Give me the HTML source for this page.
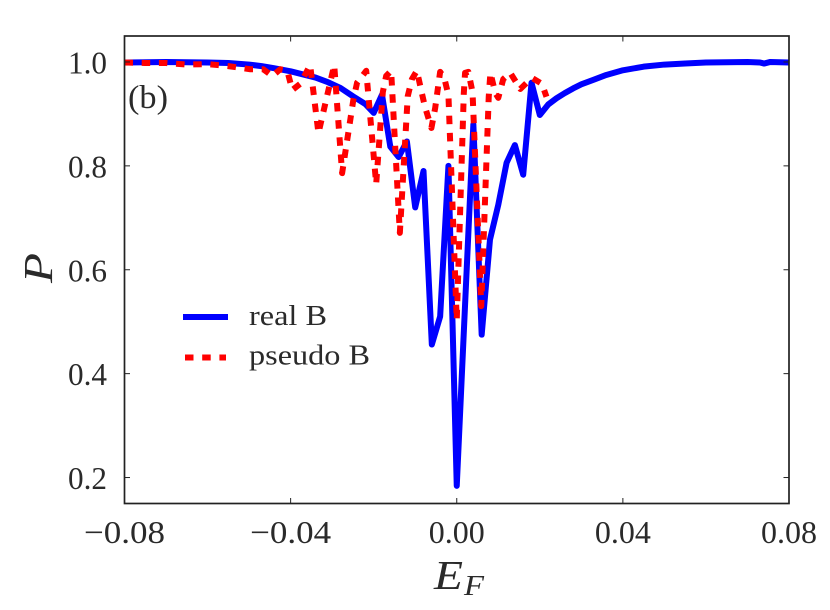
<!DOCTYPE html>
<html>
<head>
<meta charset="utf-8">
<title>P vs E_F</title>
<style>
html,body{margin:0;padding:0;background:#fff;width:830px;height:610px;overflow:hidden}
svg{display:block}
text{font-family:"Liberation Serif",serif;fill:#2a2a2a}
</style>
</head>
<body>
<svg id="chart" width="830" height="610" viewBox="0 0 830 610" xmlns="http://www.w3.org/2000/svg">
<defs><clipPath id="plot-clip"><rect x="124.5" y="36" width="664.5" height="467.5"/></clipPath></defs>
<rect x="124.5" y="36" width="664.5" height="467.5" fill="#fff"/>
<g id="series" clip-path="url(#plot-clip)"></g>
<g id="ticks"></g>
<rect x="124.5" y="36" width="664.5" height="467.5" fill="none" stroke="#222" stroke-width="1.7"/>
<text x="128" y="108" font-size="33" textLength="40" lengthAdjust="spacingAndGlyphs">(b)</text>
<text transform="translate(52,283) rotate(-90)" font-size="41" font-style="italic" textLength="30" lengthAdjust="spacingAndGlyphs">P</text>
<text x="434" y="589" font-size="41" font-style="italic" textLength="29" lengthAdjust="spacingAndGlyphs">E</text>
<text x="464" y="595" font-size="28" font-style="italic" textLength="20" lengthAdjust="spacingAndGlyphs">F</text>
<line x1="183" y1="317" x2="228" y2="317" stroke="#0000ff" stroke-width="6"/>
<line x1="185" y1="357.5" x2="226" y2="357.5" stroke="#ff0000" stroke-width="6" stroke-dasharray="8.5 8.7"/>
<text x="249" y="325" font-size="28" textLength="78" lengthAdjust="spacingAndGlyphs">real B</text>
<text x="249" y="364.5" font-size="28" textLength="121" lengthAdjust="spacingAndGlyphs">pseudo B</text>
</svg>
<script>
const xTicks = [-0.08, -0.04, 0, 0.04, 0.08];
const xTickLabels = ["\u22120.08", "\u22120.04", "0.00", "0.04", "0.08"];
const yTicks = [0.2, 0.4, 0.6, 0.8, 1.0];
const yTickLabels = ["0.2", "0.4", "0.6", "0.8", "1.0"];

const realE = [-0.08,-0.07,-0.06,-0.055,-0.05,-0.047,-0.044,-0.04,-0.037,-0.034,-0.031,-0.028,-0.025,-0.022,-0.02,-0.018,-0.016,-0.014,-0.012,-0.01,-0.008,-0.006,-0.004,-0.002,0,0.004,0.006,0.008,0.01,0.012,0.014,0.016,0.018,0.02,0.022,0.024,0.026,0.028,0.03,0.033,0.036,0.04,0.045,0.05,0.055,0.06,0.07,0.073,0.074,0.0755,0.08];
const realP = [0.999,1.0,0.999,0.998,0.995,0.992,0.988,0.982,0.976,0.97,0.961,0.95,0.934,0.919,0.902,0.937,0.837,0.817,0.847,0.72,0.79,0.456,0.51,0.80,0.184,0.88,0.475,0.658,0.725,0.806,0.84,0.783,0.96,0.898,0.918,0.93,0.94,0.949,0.957,0.966,0.975,0.984,0.991,0.995,0.997,0.999,1.0,0.999,0.997,1.0,0.999];

const pseudoE = [-0.08,-0.075,-0.07,-0.065,-0.06,-0.055,-0.0497,-0.0466,-0.0444,-0.0425,-0.0408,-0.0396,-0.0377,-0.0353,-0.0333,-0.0295,-0.0276,-0.0249,-0.024,-0.0218,-0.0194,-0.0178,-0.017,-0.0158,-0.0137,-0.0118,-0.0108,-0.0096,-0.0077,-0.0061,-0.0052,-0.0046,-0.004,-0.003,-0.002,0,0.0017,0.002,0.0028,0.0038,0.0059,0.0077,0.0081,0.0093,0.01,0.0112,0.0129,0.0153,0.0175,0.0182,0.0205,0.0216];
const pseudoP = [0.999,0.998,0.998,0.995,0.996,0.992,0.986,0.986,0.973,0.986,0.983,0.946,0.958,0.994,0.863,0.994,0.786,0.927,0.96,0.983,0.765,0.942,0.973,0.983,0.671,0.934,0.967,0.983,0.915,0.873,0.911,0.946,0.981,0.969,0.936,0.503,0.94,0.979,0.981,0.942,0.53,0.933,0.979,0.94,0.931,0.967,0.979,0.948,0.965,0.969,0.958,0.933];

const NS = "http://www.w3.org/2000/svg";
function xScale(e){ return 456.75 + e * (664.5 / 0.16); }
function yScale(p){ return 36 + (1.05 - p) * (467.5 / 0.9); }
function pathFrom(es, ps){
  return es.map(function(e, i){ return (i ? "L" : "M") + xScale(e).toFixed(2) + " " + yScale(ps[i]).toFixed(2); }).join(" ");
}
const series = document.getElementById("series");
const tickGroup = document.getElementById("ticks");

const realLine = document.createElementNS(NS, "path");


realLine.setAttribute("d", pathFrom(realE, realP));
realLine.setAttribute("fill", "none");
realLine.setAttribute("stroke", "#0000ff");
realLine.setAttribute("stroke-width", "6");
realLine.setAttribute("stroke-linejoin", "round");
series.appendChild(realLine);

const pseudoLine = document.createElementNS(NS, "path");


pseudoLine.setAttribute("d", pathFrom(pseudoE, pseudoP));
pseudoLine.setAttribute("fill", "none");
pseudoLine.setAttribute("stroke", "#ff0000");
pseudoLine.setAttribute("stroke-width", "6");
pseudoLine.setAttribute("stroke-linejoin", "round");
pseudoLine.setAttribute("stroke-dasharray", "8.5 8.7");
series.appendChild(pseudoLine);

function addTick(x1, y1, x2, y2){
  const t = document.createElementNS(NS, "line");
  
  
  t.setAttribute("x1", x1);
  t.setAttribute("y1", y1);
  t.setAttribute("x2", x2);
  t.setAttribute("y2", y2);
  t.setAttribute("stroke", "#222");
  t.setAttribute("stroke-width", "1");
  tickGroup.appendChild(t);
}
xTicks.forEach(function(v, i){
  const x = xScale(v);
  addTick(x, 503.5, x, 498);
  addTick(x, 36, x, 41.5);
  const label = document.createElementNS(NS, "text");
  
  
  label.setAttribute("x", x);
  label.setAttribute("y", 543);
  label.setAttribute("font-size", "32");
  label.setAttribute("text-anchor", "middle");
  label.setAttribute("textLength", xTickLabels[i].length > 4 ? 81 : 56);
  label.setAttribute("lengthAdjust", "spacingAndGlyphs");
  label.textContent = xTickLabels[i];
  tickGroup.appendChild(label);
});
yTicks.forEach(function(v, i){
  const y = yScale(v);
  addTick(124.5, y, 130, y);
  addTick(789, y, 783.5, y);
  const label = document.createElementNS(NS, "text");
  
  
  label.setAttribute("x", 107);
  label.setAttribute("y", y + 11.5);
  label.setAttribute("font-size", "32");
  label.setAttribute("text-anchor", "end");
  label.setAttribute("textLength", "39");
  label.setAttribute("lengthAdjust", "spacingAndGlyphs");
  label.textContent = yTickLabels[i];
  tickGroup.appendChild(label);
});
</script>
</body>
</html>
